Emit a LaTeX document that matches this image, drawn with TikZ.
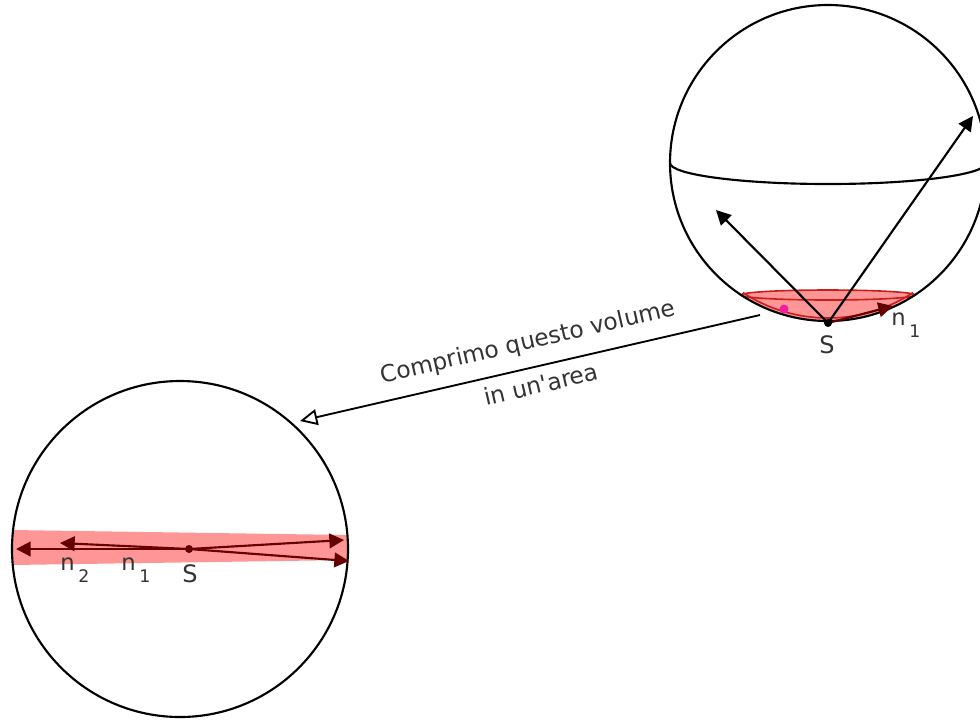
\documentclass[tikz,border=0pt]{standalone}
\usepackage{fontspec}
\setmainfont{DejaVu Sans}[Ligatures=TeXOff]
\usetikzlibrary{arrows.meta}

\definecolor{capred}{RGB}{255,150,150}
\definecolor{rimred}{RGB}{200,30,30}
\definecolor{rayred}{RGB}{100,0,0}
\definecolor{spot}{RGB}{240,30,160}

\tikzset{
	ball/.style={line width=1.6pt},
	ray/.style={line width=1.6pt,-{Triangle[length=11pt,width=11pt]}},
	redray/.style={ray,rayred},
	lbl/.style={text=black!80,font=\fontsize{18}{20}\selectfont,inner sep=0pt},
	idx/.style={text=black!80,font=\fontsize{17}{20}\selectfont,inner sep=0pt,anchor=base west},
}
% letter n with a lowered index
\newcommand{\nidx}[1]{n\,\raisebox{-9pt}{\fontsize{13}{15}\selectfont #1}}

\begin{document}
\begin{tikzpicture}[x=0.75pt,y=-0.75pt]
		\useasboundingbox (0,0) rectangle (980,719);
		
		% Upper sphere with the cap around S
		\coordinate (O1) at (828,163);
		\coordinate (S1) at (828,323);
		\fill[capred] (O1) ++(56.7:158) arc[start angle=56.7,end angle=123.3,radius=158]
			arc[start angle=180,end angle=360,x radius=87,y radius=5] -- cycle;
		\draw[rimred,line width=1.2pt] (O1) ++(56.7:155) arc[start angle=56.7,end angle=123.3,radius=155];
		\draw[rimred,line width=1.2pt] (828,295) ellipse[x radius=87,y radius=5];
		\draw[ball] (O1) circle[radius=158];
		\draw[ball] (O1) ++(180:158) arc[start angle=180,end angle=0,x radius=158,y radius=21];
		
		% Rays leaving S
		\coordinate (A1) at (716,210);
		\coordinate (B1) at (973,116);
		\coordinate (C1) at (893,306);
		\draw[ray] (S1) -- (A1);
		\draw[ray] (S1) -- (B1);
		\draw[redray] (S1) -- (C1);
		\fill[spot] (784,309) circle[radius=4.5];
		\fill (S1) circle[radius=4];
		\node[lbl,anchor=base] (s1) at (827,353) {S};
		\node[idx] (n1) at (891,325) {\nidx{1}};
		
		% Compression arrow
		\coordinate (from) at (760,315);
		\coordinate (to) at (300,421);
		\draw[line width=1.4pt,-{Triangle[open,length=13pt,width=12pt]}] (from) -- (to);
		\node[lbl,font=\fontsize{17.5}{20}\selectfont,rotate=13] (t1) at (528,343) {Comprimo questo volume};
		\node[lbl,font=\fontsize{17.5}{20}\selectfont,rotate=13] (t2) at (541,384) {in un'area};
		
		% Lower sphere, the volume squeezed into a band
		\coordinate (O2) at (180,549);
		\coordinate (S2) at (189,549);
		\fill[capred] (12,530) -- (348,535) -- (348,560) -- (12,565) -- cycle;
		\draw[ball] (O2) circle[radius=168];
		\coordinate (L1) at (16,549);
		\coordinate (L2) at (60,543);
		\coordinate (R1) at (344,540);
		\coordinate (R2) at (349,561);
		\foreach \p in {L1,L2,R1,R2}
			\draw[redray] (S2) -- (\p);
		\fill[rayred] (S2) circle[radius=4];
		\node[lbl,anchor=base] (s2) at (190,582) {S};
		\node[idx] (n2a) at (60,570) {\nidx{2}};
		\node[idx] (n2b) at (121,570) {\nidx{1}};
		
	\end{tikzpicture}
\end{document}
